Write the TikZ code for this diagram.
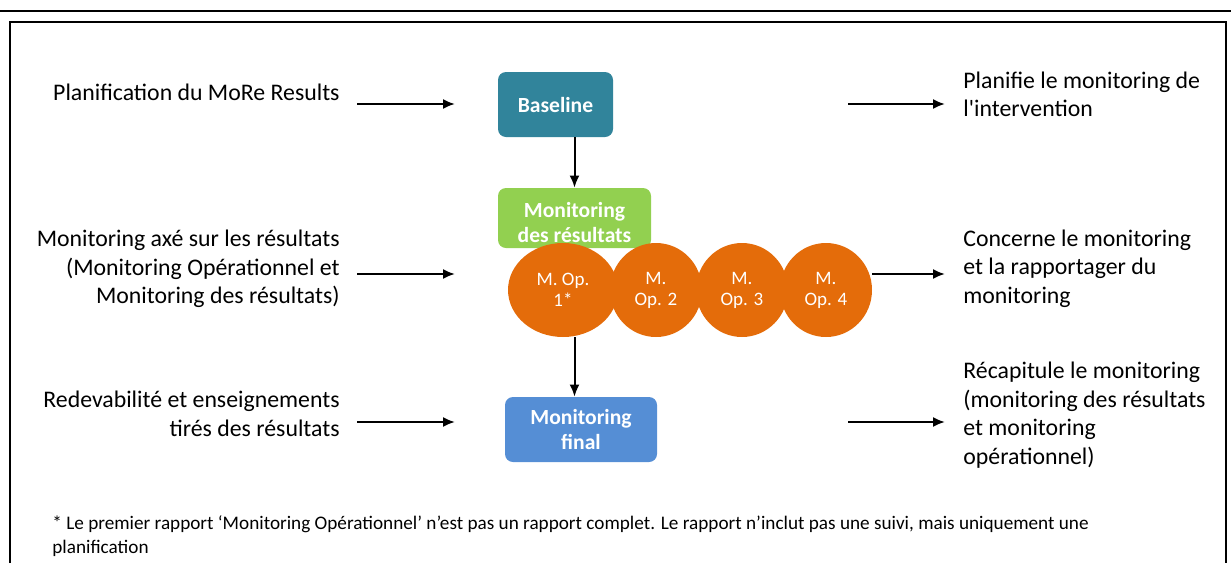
\documentclass[tikz,border=0pt]{standalone}
\usepackage{fontspec}
\setmainfont{Carlito}
\usetikzlibrary{arrows.meta,shapes.geometric}
\definecolor{bleucanard}{HTML}{31849B}
\definecolor{vertclair}{HTML}{92D050}
\definecolor{orangeop}{HTML}{E46C0A}
\definecolor{bleufinal}{HTML}{558ED5}
\tikzset{
  etape/.style={rounded corners=4pt, text=white, align=center, inner sep=0pt,
    font=\bfseries\fontsize{10.8}{12.5}\selectfont},
  mop/.style={ellipse, fill=orangeop, text=white, align=center, inner sep=0pt,
    minimum width=46pt, minimum height=47pt, font=\fontsize{9.5}{10.5}\selectfont},
  texte/.style={align=#1, inner sep=0pt, font=\fontsize{11.9}{14.3}\selectfont},
  fleche/.style={-{Latex[length=6pt,width=5pt]}, line width=1pt}
}
\begin{document}
\begin{tikzpicture}[x=0.5pt,y=-0.5pt]
  \useasboundingbox (0,0) rectangle (1231,563);
  % cadre
  \draw[line width=1pt] (0,11) -- (1231,11);
  \draw[line width=1.4pt] (10,563) -- (10,22) -- (1226,22) -- (1226,563);

  % etapes
  \node[etape, fill=bleucanard, minimum width=57.5pt, minimum height=32.5pt]
    (baseline) at (555.5,104.5) {Baseline};
  \node[etape, fill=vertclair, minimum width=76.5pt, minimum height=30pt]
    (resultats) at (574.5,218) {};
  \node[etape] (resultats-texte) at (574.5,222) {Monitoring\\des résultats};
  \node[etape, fill=bleufinal, minimum width=76pt, minimum height=32.5pt]
    (final) at (581,429.5) {Monitoring\\final};

  % monitoring operationnel
  \node[mop, minimum width=55pt] (op1) at (563,290) {M. Op.\\1*};
  \node[mop] (op2) at (656,290) {M.\\Op. 2};
  \node[mop] (op3) at (742,290) {M.\\Op. 3};
  \node[mop] (op4) at (826,290) {M.\\Op. 4};

  \draw[fleche] (resultats.north |- baseline.south) -- (resultats.north);
  \draw[fleche] (resultats.south |- op1.south) -- (resultats.south |- final.north);

  % textes a gauche
  \node[texte=right, anchor=east] (g1) at (340,92) {Planification du MoRe Results};
  \node[texte=right, anchor=east] (g2) at (340,269)
    {Monitoring axé sur les résultats\\(Monitoring Opérationnel et\\Monitoring des résultats)};
  \node[texte=right, anchor=east] (g3) at (340,414)
    {Redevabilité et enseignements\\tirés des résultats};

  % textes a droite
  \node[texte=left, anchor=west] (d1) at (963,94.5)
    {Planifie le monitoring de\\l\textquotesingle intervention};
  \node[texte=left, anchor=west] (d2) at (963,268.5)
    {Concerne le monitoring\\et la rapportager du\\monitoring};
  \node[texte=left, anchor=west] (d3) at (963,415)
    {Récapitule le monitoring\\(monitoring des résultats\\et monitoring\\opérationnel)};

  % fleches horizontales
  \coordinate (ga1) at (357,104); \coordinate (gb1) at (455,104);
  \coordinate (ga2) at (357,274); \coordinate (gb2) at (455,274);
  \coordinate (ga3) at (357,422); \coordinate (gb3) at (455,422);
  \coordinate (da1) at (848,104); \coordinate (db1) at (945,104);
  \coordinate (db2) at (945,274);
  \coordinate (da3) at (848,422); \coordinate (db3) at (945,422);
  \draw[fleche] (ga1) -- (gb1);
  \draw[fleche] (ga2) -- (gb2);
  \draw[fleche] (ga3) -- (gb3);
  \draw[fleche] (da1) -- (db1);
  \draw[fleche] (op4.east |- db2) -- (db2);
  \draw[fleche] (da3) -- (db3);

  % note
  \node[texte=left, anchor=west, font=\fontsize{9.6}{12}\selectfont] (note) at (52,536)
    {* Le premier rapport ‘Monitoring Opérationnel’ n’est pas un rapport complet. Le rapport n’inclut pas une suivi, mais uniquement une\\planification};
\end{tikzpicture}
\end{document}
